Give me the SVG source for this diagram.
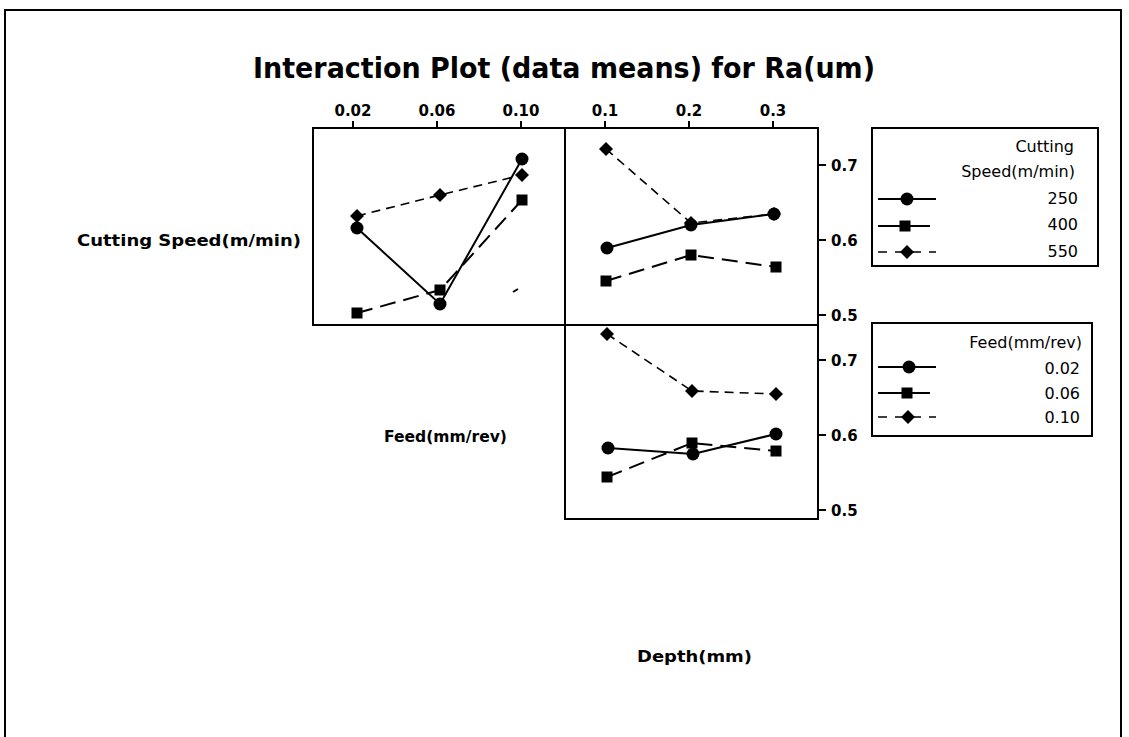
<svg xmlns="http://www.w3.org/2000/svg" xmlns:xlink="http://www.w3.org/1999/xlink" width="1129" height="737" viewBox="0 0 1129 737">
  <style>
    .frame { fill: none; stroke: #000; stroke-width: 2; }
    .box { fill: none; stroke: #000; stroke-width: 2; }
    .tick { stroke: #000; stroke-width: 2; }
    .solid { fill: none; stroke: #000; stroke-width: 2; }
    .longdash { fill: none; stroke: #000; stroke-width: 2; stroke-dasharray: 16 8; }
    .shortdash { fill: none; stroke: #000; stroke-width: 1.6; stroke-dasharray: 9 6; }
    .title { font-family: "DejaVu Sans", Verdana, sans-serif; font-weight: bold; font-size: 28px; fill: #000; }
    .axis { font-family: "DejaVu Sans", Verdana, sans-serif; font-weight: bold; font-size: 15px; fill: #000; }
    .tl { font-family: "DejaVu Sans", Verdana, sans-serif; font-weight: bold; font-size: 15px; fill: #000; text-anchor: middle; }
    .rl { font-family: "DejaVu Sans", Verdana, sans-serif; font-weight: bold; font-size: 15px; fill: #000; }
    .leg { font-family: "DejaVu Sans", Tahoma, sans-serif; font-size: 16px; fill: #000; text-anchor: end; }
    .mk { fill: #000; }
  </style>
  <defs>
    <circle id="m-circ" r="6.5"/>
    <rect id="m-sq" x="-5.5" y="-5.5" width="11" height="11"/>
    <path id="m-dia" d="M0,-7 L7,0 L0,7 L-7,0 Z"/>
  </defs>

  <rect width="1129" height="737" fill="#fff"/>

  <!-- outer frame, open at the bottom -->
  <path class="frame" d="M5,737 V10 H1121 V737"/>

  <g id="title">
    <text class="title" x="564" y="78" text-anchor="middle" textLength="622" lengthAdjust="spacingAndGlyphs">Interaction Plot (data means) for Ra(um)</text>
  </g>

  <g id="row-labels">
    <text class="axis" x="77" y="246" textLength="224" lengthAdjust="spacingAndGlyphs">Cutting Speed(m/min)</text>
    <text class="axis" x="384" y="442" textLength="123" lengthAdjust="spacingAndGlyphs">Feed(mm/rev)</text>
    <text class="axis" x="637" y="662" textLength="115" lengthAdjust="spacingAndGlyphs">Depth(mm)</text>
  </g>

  <!-- Feed (x) vs Cutting Speed (lines) -->
  <g id="panel-feed-speed">
    <rect class="box" x="313" y="128" width="252" height="197"/>
    <line class="tick" x1="353" y1="121" x2="353" y2="128"/>
    <line class="tick" x1="437" y1="121" x2="437" y2="128"/>
    <line class="tick" x1="521" y1="121" x2="521" y2="128"/>
    <text class="tl" x="353" y="116">0.02</text>
    <text class="tl" x="437" y="116">0.06</text>
    <text class="tl" x="521" y="116">0.10</text>
  </g>

  <!-- Depth (x) vs Cutting Speed (lines) -->
  <g id="panel-depth-speed">
    <rect class="box" x="565" y="128" width="253" height="197"/>
    <line class="tick" x1="605" y1="121" x2="605" y2="128"/>
    <line class="tick" x1="689" y1="121" x2="689" y2="128"/>
    <line class="tick" x1="773" y1="121" x2="773" y2="128"/>
    <text class="tl" x="605" y="116">0.1</text>
    <text class="tl" x="689" y="116">0.2</text>
    <text class="tl" x="773" y="116">0.3</text>
    <line class="tick" x1="818" y1="165" x2="826" y2="165"/>
    <line class="tick" x1="818" y1="240" x2="826" y2="240"/>
    <line class="tick" x1="818" y1="315" x2="826" y2="315"/>
    <text class="rl" x="831" y="171">0.7</text>
    <text class="rl" x="831" y="246">0.6</text>
    <text class="rl" x="831" y="321">0.5</text>
  </g>

  <!-- Depth (x) vs Feed (lines) -->
  <g id="panel-depth-feed">
    <rect class="box" x="565" y="325" width="253" height="194"/>
    <line class="tick" x1="818" y1="360" x2="826" y2="360"/>
    <line class="tick" x1="818" y1="435" x2="826" y2="435"/>
    <line class="tick" x1="818" y1="510" x2="826" y2="510"/>
    <text class="rl" x="831" y="366">0.7</text>
    <text class="rl" x="831" y="441">0.6</text>
    <text class="rl" x="831" y="516">0.5</text>
  </g>

  <g id="connectors">
    <!-- Feed vs Cutting Speed -->
    <polyline class="solid" points="357,228 440,304 522,159"/>
    <polyline class="longdash" points="357,313 440,290 522,200"/>
    <polyline class="shortdash" points="357,216 440,195 522,175"/>
    <line class="solid" x1="513" y1="292" x2="518" y2="289"/>
    <!-- Depth vs Cutting Speed -->
    <polyline class="solid" points="607,248 691,225 774,214"/>
    <polyline class="longdash" points="606,281 691,255 776,267"/>
    <polyline class="shortdash" points="606,149 691,223 774,214"/>
    <!-- Depth vs Feed -->
    <polyline class="solid" points="608,448 693,454 776,434"/>
    <polyline class="longdash" points="607,477 692,443 776,451"/>
    <polyline class="shortdash" points="607,334 692,391 776,394"/>
  </g>

  <g id="points" class="mk">
    <use href="#m-dia" x="357" y="216"/>
    <use href="#m-dia" x="440" y="195"/>
    <use href="#m-dia" x="522" y="175"/>
    <use href="#m-circ" x="357" y="228"/>
    <use href="#m-circ" x="440" y="304"/>
    <use href="#m-circ" x="522" y="159"/>
    <use href="#m-sq" x="357" y="313"/>
    <use href="#m-sq" x="440" y="290"/>
    <use href="#m-sq" x="522" y="200"/>

    <use href="#m-dia" x="606" y="149"/>
    <use href="#m-dia" x="691" y="223"/>
    <use href="#m-dia" x="774" y="214"/>
    <use href="#m-circ" x="607" y="248"/>
    <use href="#m-circ" x="691" y="225"/>
    <use href="#m-circ" x="774" y="214"/>
    <use href="#m-sq" x="606" y="281"/>
    <use href="#m-sq" x="691" y="255"/>
    <use href="#m-sq" x="776" y="267"/>

    <use href="#m-dia" x="607" y="334"/>
    <use href="#m-dia" x="692" y="391"/>
    <use href="#m-dia" x="776" y="394"/>
    <use href="#m-circ" x="608" y="448"/>
    <use href="#m-circ" x="693" y="454"/>
    <use href="#m-circ" x="776" y="434"/>
    <use href="#m-sq" x="607" y="477"/>
    <use href="#m-sq" x="692" y="443"/>
    <use href="#m-sq" x="776" y="451"/>
  </g>

  <g id="legend-speed">
    <rect class="box" x="872" y="128" width="226" height="138"/>
    <text class="leg" x="1074" y="152">Cutting</text>
    <text class="leg" x="1075" y="177">Speed(m/min)</text>
    <line class="solid" x1="878" y1="199" x2="936" y2="199"/>
    <use class="mk" href="#m-circ" x="907" y="199"/>
    <text class="leg" x="1078" y="204">250</text>
    <line class="solid" x1="878" y1="226" x2="930" y2="226"/>
    <use class="mk" href="#m-sq" x="905" y="226"/>
    <text class="leg" x="1078" y="230">400</text>
    <line class="shortdash" x1="878" y1="252" x2="936" y2="252" style="stroke-dasharray: 9 8"/>
    <use class="mk" href="#m-dia" x="907" y="252"/>
    <text class="leg" x="1078" y="257">550</text>
  </g>

  <g id="legend-feed">
    <rect class="box" x="872" y="323" width="220" height="113"/>
    <text class="leg" x="1082" y="348">Feed(mm/rev)</text>
    <line class="solid" x1="878" y1="367" x2="936" y2="367"/>
    <use class="mk" href="#m-circ" x="909" y="367"/>
    <text class="leg" x="1080" y="374">0.02</text>
    <line class="solid" x1="878" y1="393" x2="930" y2="393"/>
    <use class="mk" href="#m-sq" x="907" y="393"/>
    <text class="leg" x="1080" y="399">0.06</text>
    <line class="shortdash" x1="878" y1="417" x2="936" y2="417" style="stroke-dasharray: 9 8"/>
    <use class="mk" href="#m-dia" x="908" y="417"/>
    <text class="leg" x="1080" y="423">0.10</text>
  </g>
</svg>
